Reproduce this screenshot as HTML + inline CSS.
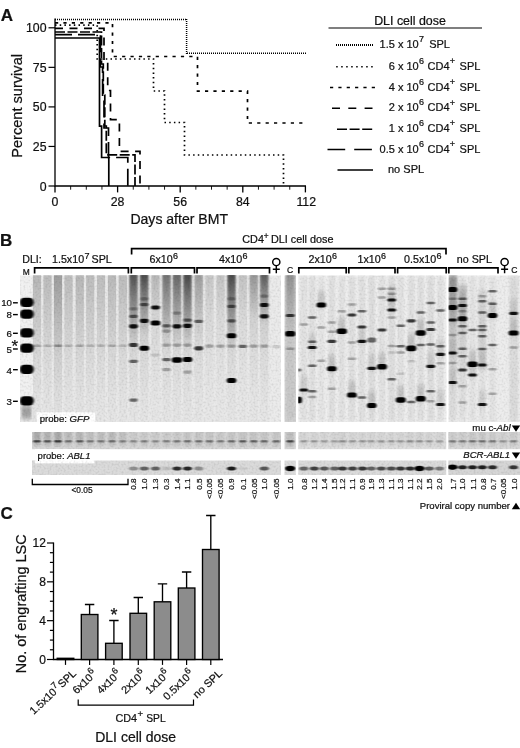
<!DOCTYPE html>
<html><head><meta charset="utf-8"><title>Figure</title>
<style>
html,body{margin:0;padding:0;background:#fff;}
body{width:520px;height:748px;overflow:hidden;}
svg{display:block;will-change:transform;}
text{font-family:"Liberation Sans",sans-serif;fill:#111;stroke:#111;stroke-width:0.22px;}
.b{font-weight:bold;}
.i{font-style:italic;}
.ln{fill:none;stroke:#000;}
</style></head><body>
<svg width="520" height="748" viewBox="0 0 520 748">
<defs>
<filter id="bl1" x="-50%" y="-150%" width="200%" height="400%"><feGaussianBlur stdDeviation="0.85 0.7"/></filter>
<filter id="bl2" x="-50%" y="-150%" width="200%" height="400%"><feGaussianBlur stdDeviation="0.95 0.65"/></filter>
<filter id="bl3" x="-30%" y="-20%" width="160%" height="140%"><feGaussianBlur stdDeviation="1.1 2.5"/></filter>
<filter id="noise" x="0" y="0" width="100%" height="100%">
<feTurbulence type="fractalNoise" baseFrequency="0.5" numOctaves="2" seed="3" result="n"/>
<feColorMatrix in="n" type="matrix" values="0 0 0 0 0  0 0 0 0 0  0 0 0 0 0  1.2 0 0 0 -0.5"/>
</filter>
<linearGradient id="sm" x1="0" y1="0" x2="0" y2="1">
<stop offset="0" stop-color="#000" stop-opacity="1"/><stop offset="0.35" stop-color="#000" stop-opacity="0.6"/><stop offset="1" stop-color="#000" stop-opacity="0"/>
</linearGradient>
<linearGradient id="lg" x1="0" y1="0" x2="0" y2="1">
<stop offset="0" stop-color="#000" stop-opacity="1"/><stop offset="0.3" stop-color="#000" stop-opacity="0.62"/><stop offset="0.55" stop-color="#000" stop-opacity="0.32"/><stop offset="0.8" stop-color="#000" stop-opacity="0.14"/><stop offset="1" stop-color="#000" stop-opacity="0.08"/>
</linearGradient>
<filter id="bl4" x="-30%" y="-5%" width="160%" height="110%"><feGaussianBlur stdDeviation="0.7 1.5"/></filter>
<clipPath id="cg1"><rect x="20" y="275" width="261" height="147"/></clipPath>
<clipPath id="cgc"><rect x="284.5" y="275" width="11.5" height="147"/></clipPath>
<clipPath id="cg2"><rect x="298.25" y="275" width="148.25" height="147"/></clipPath>
<clipPath id="cg3"><rect x="448.5" y="275" width="71.5" height="147"/></clipPath>
</defs>
<rect width="520" height="748" fill="#fff"/>

<g id="panelA">
<text class="b" x="0.8" y="20.8" font-size="17">A</text>
<path class="ln" stroke-width="1.3" d="M55,18.5 V186.0 H306.0"/>
<path class="ln" stroke-width="1.2" d="M48.5,186.00 H55"/>
<text x="46.5" y="190.50" font-size="12.3" text-anchor="end">0</text>
<path class="ln" stroke-width="1.2" d="M48.5,146.45 H55"/>
<text x="46.5" y="150.95" font-size="12.3" text-anchor="end">25</text>
<path class="ln" stroke-width="1.2" d="M48.5,106.90 H55"/>
<text x="46.5" y="111.40" font-size="12.3" text-anchor="end">50</text>
<path class="ln" stroke-width="1.2" d="M48.5,67.35 H55"/>
<text x="46.5" y="71.85" font-size="12.3" text-anchor="end">75</text>
<path class="ln" stroke-width="1.2" d="M48.5,27.80 H55"/>
<text x="46.5" y="32.30" font-size="12.3" text-anchor="end">100</text>
<path class="ln" stroke-width="1.3" d="M55.00,186.0 v6.4"/>
<text x="55.00" y="206.3" font-size="12.3" text-anchor="middle">0</text>
<path class="ln" stroke="#333" stroke-width="0.9" d="M70.65,186.0 v3.7"/>
<path class="ln" stroke="#333" stroke-width="0.9" d="M86.30,186.0 v3.7"/>
<path class="ln" stroke="#333" stroke-width="0.9" d="M101.95,186.0 v3.7"/>
<path class="ln" stroke-width="1.3" d="M117.60,186.0 v6.4"/>
<text x="117.60" y="206.3" font-size="12.3" text-anchor="middle">28</text>
<path class="ln" stroke="#333" stroke-width="0.9" d="M133.25,186.0 v3.7"/>
<path class="ln" stroke="#333" stroke-width="0.9" d="M148.90,186.0 v3.7"/>
<path class="ln" stroke="#333" stroke-width="0.9" d="M164.55,186.0 v3.7"/>
<path class="ln" stroke-width="1.3" d="M180.20,186.0 v6.4"/>
<text x="180.20" y="206.3" font-size="12.3" text-anchor="middle">56</text>
<path class="ln" stroke="#333" stroke-width="0.9" d="M195.85,186.0 v3.7"/>
<path class="ln" stroke="#333" stroke-width="0.9" d="M211.50,186.0 v3.7"/>
<path class="ln" stroke="#333" stroke-width="0.9" d="M227.15,186.0 v3.7"/>
<path class="ln" stroke-width="1.3" d="M242.80,186.0 v6.4"/>
<text x="242.80" y="206.3" font-size="12.3" text-anchor="middle">84</text>
<path class="ln" stroke="#333" stroke-width="0.9" d="M258.45,186.0 v3.7"/>
<path class="ln" stroke="#333" stroke-width="0.9" d="M274.10,186.0 v3.7"/>
<path class="ln" stroke="#333" stroke-width="0.9" d="M289.75,186.0 v3.7"/>
<path class="ln" stroke-width="1.3" d="M305.40,186.0 v6.4"/>
<text x="306.20" y="206.3" font-size="12.3" text-anchor="middle">112</text>
<text x="179.2" y="223.7" font-size="14.05" text-anchor="middle">Days after BMT</text>
<text transform="translate(21.9,105.9) rotate(-90)" font-size="14.6" text-anchor="middle">Percent survival</text>
<path class="ln" stroke-width="1.5" stroke-dasharray="1 1" d="M55,19.6 H187"/>
<path class="ln" stroke-width="1.5" stroke-dasharray="1 1" d="M186.6,19 V54"/>
<path class="ln" stroke-width="1.5" stroke-dasharray="1 1" d="M187,53.2 H306"/>
<path class="ln" stroke-width="1.7" stroke-dasharray="1.5 3.2" d="M55,25.2 H97.2 V59 H153.5 V91 H164.5 V122.5 H184.5 V155 H283.5 V186.0"/>
<path class="ln" stroke-width="1.7" stroke-dasharray="3.2 5.2" d="M55,22.8 H112.5 V56.5 H197.5 V91.2 H247.5 V123 H305"/>
<path class="ln" stroke-width="1.7" stroke-dasharray="8 6.5" d="M55,28.4 H104 V62 H107.7 V90.5 H110.5 V119.6 H119.4 V151.3 H140 V186.0"/>
<path class="ln" stroke-width="1.7" stroke-dasharray="10 2.5" d="M55,32 H101.5 V64 H103.3 V95 H104.8 V126 H106.3 V154.8 H135 V186.0"/>
<path class="ln" stroke-width="1.7" stroke-dasharray="17 6" d="M55,34.6 H100.4 V67 H102.6 V98 H104 V128 H108.5 V157.5 H127.8 V186.0"/>
<path class="ln" stroke-width="1.7" d="M55,38 H99.5 V126.2 H101.6 V157.5 H108.8 V186.0"/>
</g>
<g id="legend">
<text x="410" y="24.5" font-size="12.4" text-anchor="middle">DLI cell dose</text>
<path class="ln" stroke-width="1.2" d="M328.5,28 H482"/>
<path class="ln" stroke-width="2.0" stroke-dasharray="1 1" d="M336,45 H373"/>
<text x="418.7" y="48" font-size="11" text-anchor="end">1.5 x 10</text>
<text x="419" y="42.2" font-size="9">7</text>
<text x="429.2" y="48" font-size="11">SPL</text>
<path class="ln" stroke-width="1.5" stroke-dasharray="1.5 3.5" d="M336.2,66.75 H373"/>
<text x="418.7" y="69.5" font-size="11" text-anchor="end">6 x 10</text>
<text x="419" y="63.7" font-size="9">6</text>
<text x="427.6" y="69.5" font-size="11">CD4</text>
<text x="449.8" y="63.9" font-size="9">+</text>
<text x="459.6" y="69.5" font-size="11">SPL</text>
<path class="ln" stroke-width="1.6" stroke-dasharray="3.2 5.15" d="M330,87.5 H375"/>
<text x="418.7" y="90.5" font-size="11" text-anchor="end">4 x 10</text>
<text x="419" y="84.7" font-size="9">6</text>
<text x="427.6" y="90.5" font-size="11">CD4</text>
<text x="449.8" y="84.9" font-size="9">+</text>
<text x="459.6" y="90.5" font-size="11">SPL</text>
<path class="ln" stroke-width="1.5" stroke-dasharray="8 8.3" d="M332,108.25 H372.5"/>
<text x="418.7" y="111.25" font-size="11" text-anchor="end">2 x 10</text>
<text x="419" y="105.45" font-size="9">6</text>
<text x="427.6" y="111.25" font-size="11">CD4</text>
<text x="449.8" y="105.65" font-size="9">+</text>
<text x="459.6" y="111.25" font-size="11">SPL</text>
<path class="ln" stroke-width="1.5" stroke-dasharray="10 2.6" d="M337,129.25 H372.5"/>
<text x="418.7" y="132" font-size="11" text-anchor="end">1 x 10</text>
<text x="419" y="126.2" font-size="9">6</text>
<text x="427.6" y="132" font-size="11">CD4</text>
<text x="449.8" y="126.4" font-size="9">+</text>
<text x="459.6" y="132" font-size="11">SPL</text>
<path class="ln" stroke-width="1.5" stroke-dasharray="17.7 9" d="M327.5,149.4 H372.5"/>
<text x="418.7" y="153" font-size="11" text-anchor="end">0.5 x 10</text>
<text x="419" y="147.2" font-size="9">6</text>
<text x="427.6" y="153" font-size="11">CD4</text>
<text x="449.8" y="147.4" font-size="9">+</text>
<text x="459.6" y="153" font-size="11">SPL</text>
<path class="ln" stroke-width="1.5" d="M337.5,170 H373"/>
<text x="388" y="173.25" font-size="11">no SPL</text>
</g>
<g id="panelB">
<text class="b" x="0" y="246.2" font-size="17">B</text>
<text x="22.3" y="263" font-size="10.6">DLI:</text>
<text x="52.00" y="263" font-size="10.7">1.5x10</text><text x="84.42" y="258.5" font-size="8.99">7</text><text x="91.51" y="263" font-size="10.7">SPL</text>
<text x="149.52" y="263" font-size="10.7">6x10</text><text x="173.02" y="258.5" font-size="8.99">6</text>
<text x="219.02" y="263" font-size="10.7">4x10</text><text x="242.52" y="258.5" font-size="8.99">6</text>
<text x="308.52" y="263" font-size="10.7">2x10</text><text x="332.02" y="258.5" font-size="8.99">6</text>
<text x="357.52" y="263" font-size="10.7">1x10</text><text x="381.02" y="258.5" font-size="8.99">6</text>
<text x="404.06" y="263" font-size="10.7">0.5x10</text><text x="436.48" y="258.5" font-size="8.99">6</text>
<text x="474.4" y="263" font-size="10.7" text-anchor="middle">no SPL</text>
<text x="22.8" y="274.6" font-size="8.4">M</text>
<text x="286.9" y="273.1" font-size="8.6">C</text>
<text x="511.2" y="273.1" font-size="8.6">C</text>
<text x="242.3" y="243.2" font-size="10.8">CD4</text><text x="263.8" y="238.8" font-size="8.3">+</text><text x="271" y="243.2" font-size="10.8">DLI cell dose</text>
<path class="ln" stroke-width="1.7" d="M34.6,273.59999999999997 V267.9 H128.4 V273.59999999999997"/>
<path class="ln" stroke-width="1.7" d="M131.3,273.59999999999997 V267.9 H194.5 V273.59999999999997"/>
<path class="ln" stroke-width="1.7" d="M197,273.59999999999997 V267.9 H269.5 V273.59999999999997"/>
<path class="ln" stroke-width="1.7" d="M298.8,273.59999999999997 V267.9 H346.2 V273.59999999999997"/>
<path class="ln" stroke-width="1.7" d="M348.8,273.59999999999997 V267.9 H395 V273.59999999999997"/>
<path class="ln" stroke-width="1.7" d="M397.6,273.59999999999997 V267.9 H446.2 V273.59999999999997"/>
<path class="ln" stroke-width="1.7" d="M448.8,273.59999999999997 V267.9 H498 V273.59999999999997"/>
<path class="ln" stroke-width="1.7" d="M131.6,254.5 V248.7 H446 V254.5"/>
<g class="ln" stroke-width="1.45"><circle cx="276.3" cy="262" r="3.6"/><path d="M276.3,265.6 V273.2 M272.8,269.2 H279.8"/></g>
<g class="ln" stroke-width="1.45"><circle cx="504.6" cy="262" r="3.6"/><path d="M504.6,265.6 V273.2 M501.1,269.2 H508.1"/></g>
<text x="12" y="306.2" font-size="9.7" text-anchor="end">10</text>
<path class="ln" stroke-width="1.4" d="M13,302.79999999999995 h4.8"/>
<text x="12" y="318" font-size="9.7" text-anchor="end">8</text>
<path class="ln" stroke-width="1.4" d="M13,314.59999999999997 h4.8"/>
<text x="12" y="336.8" font-size="9.7" text-anchor="end">6</text>
<path class="ln" stroke-width="1.4" d="M13,333.29999999999995 h4.8"/>
<text x="12" y="352.5" font-size="9.7" text-anchor="end">5</text>
<path class="ln" stroke-width="1.4" d="M13,349.0 h4.8"/>
<text x="12" y="373.5" font-size="9.7" text-anchor="end">4</text>
<path class="ln" stroke-width="1.4" d="M13,369.7 h4.8"/>
<text x="12" y="405.4" font-size="9.7" text-anchor="end">3</text>
<path class="ln" stroke-width="1.4" d="M13,401.29999999999995 h4.8"/>
<text x="14.8" y="352.3" font-size="17" text-anchor="middle">*</text>
<g id="gel">
<rect x="20" y="275.5" width="13.5" height="146.5" fill="#f1f1f1"/>
<rect x="33" y="275.5" width="237" height="146.5" fill="#e9e9e9"/>
<rect x="270" y="275.5" width="11" height="146.5" fill="#ebebeb"/>
<rect x="284.5" y="275.5" width="11.5" height="146.5" fill="#d6d6d6"/>
<rect x="298.25" y="275.5" width="148.25" height="146.5" fill="#efefef"/>
<rect x="448.5" y="275.5" width="71.5" height="146.5" fill="#ededed"/>
<g clip-path="url(#cg1)">
<rect x="32.90" y="274" width="8.2" height="150" fill="url(#lg)" opacity="0.21" filter="url(#bl4)"/>
<rect x="43.40" y="274" width="8.2" height="150" fill="url(#lg)" opacity="0.19" filter="url(#bl4)"/>
<rect x="53.90" y="274" width="8.2" height="150" fill="url(#lg)" opacity="0.32" filter="url(#bl4)"/>
<rect x="64.40" y="274" width="8.2" height="150" fill="url(#lg)" opacity="0.19" filter="url(#bl4)"/>
<rect x="75.65" y="274" width="8.2" height="150" fill="url(#lg)" opacity="0.21" filter="url(#bl4)"/>
<rect x="86.15" y="274" width="8.2" height="150" fill="url(#lg)" opacity="0.19" filter="url(#bl4)"/>
<rect x="96.90" y="274" width="8.2" height="150" fill="url(#lg)" opacity="0.18" filter="url(#bl4)"/>
<rect x="107.90" y="274" width="8.2" height="150" fill="url(#lg)" opacity="0.20" filter="url(#bl4)"/>
<rect x="118.65" y="274" width="8.2" height="150" fill="url(#lg)" opacity="0.19" filter="url(#bl4)"/>
<rect x="129.40" y="274" width="8.2" height="150" fill="url(#lg)" opacity="0.20" filter="url(#bl4)"/>
<rect x="140.15" y="274" width="8.2" height="150" fill="url(#lg)" opacity="0.20" filter="url(#bl4)"/>
<rect x="151.40" y="274" width="8.2" height="150" fill="url(#lg)" opacity="0.12" filter="url(#bl4)"/>
<rect x="162.40" y="274" width="8.2" height="150" fill="url(#lg)" opacity="0.18" filter="url(#bl4)"/>
<rect x="172.90" y="274" width="8.2" height="150" fill="url(#lg)" opacity="0.18" filter="url(#bl4)"/>
<rect x="183.40" y="274" width="8.2" height="150" fill="url(#lg)" opacity="0.20" filter="url(#bl4)"/>
<rect x="194.65" y="274" width="8.2" height="150" fill="url(#lg)" opacity="0.16" filter="url(#bl4)"/>
<rect x="205.40" y="274" width="8.2" height="150" fill="url(#lg)" opacity="0.10" filter="url(#bl4)"/>
<rect x="216.40" y="274" width="8.2" height="150" fill="url(#lg)" opacity="0.10" filter="url(#bl4)"/>
<rect x="227.40" y="274" width="8.2" height="150" fill="url(#lg)" opacity="0.18" filter="url(#bl4)"/>
<rect x="238.65" y="274" width="8.2" height="150" fill="url(#lg)" opacity="0.10" filter="url(#bl4)"/>
<rect x="249.65" y="274" width="8.2" height="150" fill="url(#lg)" opacity="0.14" filter="url(#bl4)"/>
<rect x="260.15" y="274" width="8.2" height="150" fill="url(#lg)" opacity="0.16" filter="url(#bl4)"/>
<rect x="129.50" y="268" width="8" height="77" fill="url(#sm)" opacity="0.62" filter="url(#bl3)"/>
<rect x="140.25" y="268" width="8" height="67" fill="url(#sm)" opacity="0.68" filter="url(#bl3)"/>
<rect x="151.50" y="268" width="8" height="47" fill="url(#sm)" opacity="0.12" filter="url(#bl3)"/>
<rect x="162.50" y="268" width="8" height="77" fill="url(#sm)" opacity="0.45" filter="url(#bl3)"/>
<rect x="173.00" y="268" width="8" height="77" fill="url(#sm)" opacity="0.5" filter="url(#bl3)"/>
<rect x="183.50" y="268" width="8" height="77" fill="url(#sm)" opacity="0.68" filter="url(#bl3)"/>
<rect x="194.75" y="268" width="8" height="67" fill="url(#sm)" opacity="0.22" filter="url(#bl3)"/>
<rect x="205.50" y="268" width="8" height="47" fill="url(#sm)" opacity="0.06" filter="url(#bl3)"/>
<rect x="216.50" y="268" width="8" height="47" fill="url(#sm)" opacity="0.08" filter="url(#bl3)"/>
<rect x="227.50" y="268" width="8" height="82" fill="url(#sm)" opacity="0.68" filter="url(#bl3)"/>
<rect x="238.75" y="268" width="8" height="47" fill="url(#sm)" opacity="0.08" filter="url(#bl3)"/>
<rect x="249.75" y="268" width="8" height="52" fill="url(#sm)" opacity="0.3" filter="url(#bl3)"/>
<rect x="260.25" y="268" width="8" height="57" fill="url(#sm)" opacity="0.62" filter="url(#bl3)"/>
</g>
<g clip-path="url(#cg1)">
<rect x="19.9" y="297.7" width="13.8" height="9.2" rx="4.2" fill="#000" filter="url(#bl1)"/>
<rect x="19.9" y="309.59999999999997" width="13.8" height="9.2" rx="4.2" fill="#000" filter="url(#bl1)"/>
<rect x="19.9" y="328.2" width="13.8" height="9.2" rx="4.2" fill="#000" filter="url(#bl1)"/>
<rect x="19.9" y="343.59999999999997" width="13.8" height="9.2" rx="4.2" fill="#000" filter="url(#bl1)"/>
<rect x="19.9" y="364.7" width="13.8" height="9.2" rx="4.2" fill="#000" filter="url(#bl1)"/>
<rect x="19.9" y="396.2" width="13.8" height="9.2" rx="4.2" fill="#000" filter="url(#bl1)"/>
<rect x="21.5" y="405" width="10" height="14" fill="#000" opacity="0.32" filter="url(#bl3)"/>
<rect x="32.80" y="344.55" width="8.40" height="2.50" rx="1.25" fill="#000" opacity="0.22" filter="url(#bl2)"/>
<rect x="43.30" y="344.55" width="8.40" height="2.50" rx="1.25" fill="#000" opacity="0.18" filter="url(#bl2)"/>
<rect x="53.80" y="344.55" width="8.40" height="2.50" rx="1.25" fill="#000" opacity="0.32" filter="url(#bl2)"/>
<rect x="64.30" y="344.55" width="8.40" height="2.50" rx="1.25" fill="#000" opacity="0.18" filter="url(#bl2)"/>
<rect x="75.55" y="344.55" width="8.40" height="2.50" rx="1.25" fill="#000" opacity="0.22" filter="url(#bl2)"/>
<rect x="86.05" y="344.55" width="8.40" height="2.50" rx="1.25" fill="#000" opacity="0.18" filter="url(#bl2)"/>
<rect x="96.80" y="344.55" width="8.40" height="2.50" rx="1.25" fill="#000" opacity="0.18" filter="url(#bl2)"/>
<rect x="107.80" y="344.55" width="8.40" height="2.50" rx="1.25" fill="#000" opacity="0.22" filter="url(#bl2)"/>
<rect x="118.55" y="344.55" width="8.40" height="2.50" rx="1.25" fill="#000" opacity="0.16" filter="url(#bl2)"/>
<rect x="129.30" y="307.18" width="8.40" height="3.25" rx="1.62" fill="#000" opacity="0.28" filter="url(#bl2)"/>
<rect x="129.30" y="314.68" width="8.40" height="3.25" rx="1.62" fill="#000" opacity="0.55" filter="url(#bl2)"/>
<rect x="129.10" y="324.22" width="8.80" height="4.16" rx="2.08" fill="#000" opacity="0.92" filter="url(#bl1)"/>
<rect x="129.10" y="342.92" width="8.80" height="4.16" rx="2.08" fill="#000" opacity="0.75" filter="url(#bl1)"/>
<rect x="129.30" y="359.68" width="8.40" height="3.25" rx="1.62" fill="#000" opacity="0.55" filter="url(#bl2)"/>
<rect x="129.30" y="398.38" width="8.40" height="3.25" rx="1.62" fill="#000" opacity="0.55" filter="url(#bl2)"/>
<rect x="140.05" y="297.18" width="8.40" height="3.25" rx="1.62" fill="#000" opacity="0.28" filter="url(#bl2)"/>
<rect x="140.05" y="302.88" width="8.40" height="3.25" rx="1.62" fill="#000" opacity="0.55" filter="url(#bl2)"/>
<rect x="139.85" y="318.72" width="8.80" height="4.16" rx="2.08" fill="#000" opacity="0.92" filter="url(#bl1)"/>
<rect x="139.45" y="345.80" width="9.60" height="5.00" rx="2.50" fill="#000" opacity="1.00" filter="url(#bl1)"/>
<rect x="151.10" y="305.42" width="8.80" height="4.16" rx="2.08" fill="#000" opacity="0.92" filter="url(#bl1)"/>
<rect x="150.70" y="320.50" width="9.60" height="5.00" rx="2.50" fill="#000" opacity="1.00" filter="url(#bl1)"/>
<rect x="151.30" y="353.38" width="8.40" height="3.25" rx="1.62" fill="#000" opacity="0.13" filter="url(#bl2)"/>
<rect x="162.30" y="324.18" width="8.40" height="3.25" rx="1.62" fill="#000" opacity="0.55" filter="url(#bl2)"/>
<rect x="162.30" y="329.38" width="8.40" height="3.25" rx="1.62" fill="#000" opacity="0.28" filter="url(#bl2)"/>
<rect x="162.30" y="343.38" width="8.40" height="3.25" rx="1.62" fill="#000" opacity="0.28" filter="url(#bl2)"/>
<rect x="162.30" y="357.88" width="8.40" height="3.25" rx="1.62" fill="#000" opacity="0.55" filter="url(#bl2)"/>
<rect x="162.30" y="367.88" width="8.40" height="3.25" rx="1.62" fill="#000" opacity="0.28" filter="url(#bl2)"/>
<rect x="172.80" y="311.38" width="8.40" height="3.25" rx="1.62" fill="#000" opacity="0.28" filter="url(#bl2)"/>
<rect x="172.60" y="324.22" width="8.80" height="4.16" rx="2.08" fill="#000" opacity="0.92" filter="url(#bl1)"/>
<rect x="172.80" y="343.38" width="8.40" height="3.25" rx="1.62" fill="#000" opacity="0.28" filter="url(#bl2)"/>
<rect x="171.80" y="357.20" width="10.40" height="5.60" rx="2.80" fill="#000" opacity="1.00" filter="url(#bl1)"/>
<rect x="183.30" y="318.38" width="8.40" height="3.25" rx="1.62" fill="#000" opacity="0.55" filter="url(#bl2)"/>
<rect x="183.10" y="323.72" width="8.80" height="4.16" rx="2.08" fill="#000" opacity="0.92" filter="url(#bl1)"/>
<rect x="183.30" y="343.38" width="8.40" height="3.25" rx="1.62" fill="#000" opacity="0.28" filter="url(#bl2)"/>
<rect x="182.70" y="357.00" width="9.60" height="5.00" rx="2.50" fill="#000" opacity="1.00" filter="url(#bl1)"/>
<rect x="183.30" y="370.38" width="8.40" height="3.25" rx="1.62" fill="#000" opacity="0.28" filter="url(#bl2)"/>
<rect x="194.55" y="319.68" width="8.40" height="3.25" rx="1.62" fill="#000" opacity="0.55" filter="url(#bl2)"/>
<rect x="194.35" y="346.22" width="8.80" height="4.16" rx="2.08" fill="#000" opacity="0.75" filter="url(#bl1)"/>
<rect x="205.30" y="344.38" width="8.40" height="3.25" rx="1.62" fill="#000" opacity="0.28" filter="url(#bl2)"/>
<rect x="216.30" y="344.38" width="8.40" height="3.25" rx="1.62" fill="#000" opacity="0.28" filter="url(#bl2)"/>
<rect x="227.30" y="297.18" width="8.40" height="3.25" rx="1.62" fill="#000" opacity="0.28" filter="url(#bl2)"/>
<rect x="227.30" y="304.68" width="8.40" height="3.25" rx="1.62" fill="#000" opacity="0.55" filter="url(#bl2)"/>
<rect x="227.30" y="319.18" width="8.40" height="3.25" rx="1.62" fill="#000" opacity="0.55" filter="url(#bl2)"/>
<rect x="226.70" y="333.30" width="9.60" height="5.00" rx="2.50" fill="#000" opacity="1.00" filter="url(#bl1)"/>
<rect x="227.30" y="344.38" width="8.40" height="3.25" rx="1.62" fill="#000" opacity="0.28" filter="url(#bl2)"/>
<rect x="226.70" y="378.00" width="9.60" height="5.00" rx="2.50" fill="#000" opacity="1.00" filter="url(#bl1)"/>
<rect x="238.55" y="344.68" width="8.40" height="3.25" rx="1.62" fill="#000" opacity="0.55" filter="url(#bl2)"/>
<rect x="249.55" y="344.38" width="8.40" height="3.25" rx="1.62" fill="#000" opacity="0.28" filter="url(#bl2)"/>
<rect x="260.05" y="294.38" width="8.40" height="3.25" rx="1.62" fill="#000" opacity="0.28" filter="url(#bl2)"/>
<rect x="259.85" y="302.92" width="8.80" height="4.16" rx="2.08" fill="#000" opacity="0.92" filter="url(#bl1)"/>
<rect x="259.85" y="314.22" width="8.80" height="4.16" rx="2.08" fill="#000" opacity="0.92" filter="url(#bl1)"/>
<rect x="260.05" y="344.38" width="8.40" height="3.25" rx="1.62" fill="#000" opacity="0.28" filter="url(#bl2)"/>
<rect x="272.05" y="344.88" width="8.40" height="3.25" rx="1.62" fill="#000" opacity="0.13" filter="url(#bl2)"/>
</g>
<g clip-path="url(#cgc)">
<rect x="286" y="270" width="8.5" height="150" fill="#000" opacity="0.06" filter="url(#bl3)"/>
<rect x="286" y="270" width="8.5" height="70" fill="url(#sm)" opacity="0.3" filter="url(#bl3)"/>
<rect x="285.80" y="313.90" width="8.80" height="3.20" rx="1.60" fill="#000" opacity="0.75" filter="url(#bl1)"/>
<rect x="285.00" y="331.00" width="10.40" height="5.60" rx="2.80" fill="#000" opacity="1.00" filter="url(#bl1)"/>
<rect x="286.00" y="347.55" width="8.40" height="2.50" rx="1.25" fill="#000" opacity="0.28" filter="url(#bl2)"/>
</g>
<g clip-path="url(#cg2)">
<rect x="300.50" y="275" width="6.5" height="147" fill="#000" opacity="0.05" filter="url(#bl3)"/>
<rect x="308.95" y="275" width="6.5" height="147" fill="#000" opacity="0.06" filter="url(#bl3)"/>
<rect x="318.05" y="275" width="6.5" height="147" fill="#000" opacity="0.04" filter="url(#bl3)"/>
<rect x="328.55" y="275" width="6.5" height="147" fill="#000" opacity="0.06" filter="url(#bl3)"/>
<rect x="338.55" y="275" width="6.5" height="147" fill="#000" opacity="0.05" filter="url(#bl3)"/>
<rect x="348.65" y="275" width="6.5" height="147" fill="#000" opacity="0.06" filter="url(#bl3)"/>
<rect x="358.65" y="275" width="6.5" height="147" fill="#000" opacity="0.06" filter="url(#bl3)"/>
<rect x="368.50" y="275" width="6.5" height="147" fill="#000" opacity="0.07" filter="url(#bl3)"/>
<rect x="378.75" y="275" width="6.5" height="147" fill="#000" opacity="0.05" filter="url(#bl3)"/>
<rect x="388.45" y="275" width="6.5" height="147" fill="#000" opacity="0.07" filter="url(#bl3)"/>
<rect x="397.50" y="275" width="6.5" height="147" fill="#000" opacity="0.05" filter="url(#bl3)"/>
<rect x="408.00" y="275" width="6.5" height="147" fill="#000" opacity="0.06" filter="url(#bl3)"/>
<rect x="417.50" y="275" width="6.5" height="147" fill="#000" opacity="0.06" filter="url(#bl3)"/>
<rect x="427.50" y="275" width="6.5" height="147" fill="#000" opacity="0.07" filter="url(#bl3)"/>
<rect x="437.25" y="275" width="6.5" height="147" fill="#000" opacity="0.05" filter="url(#bl3)"/>
<rect x="300.15" y="376.0" width="7.2" height="17" fill="#000" opacity="0.09" filter="url(#bl3)"/>
<rect x="308.60" y="333.5" width="7.2" height="17" fill="#000" opacity="0.09" filter="url(#bl3)"/>
<rect x="317.70" y="291.0" width="7.2" height="17" fill="#000" opacity="0.13" filter="url(#bl3)"/>
<rect x="328.20" y="354.8" width="7.2" height="17" fill="#000" opacity="0.13" filter="url(#bl3)"/>
<rect x="338.20" y="317.3" width="7.2" height="17" fill="#000" opacity="0.13" filter="url(#bl3)"/>
<rect x="348.30" y="381.0" width="7.2" height="17" fill="#000" opacity="0.13" filter="url(#bl3)"/>
<rect x="358.30" y="327.3" width="7.2" height="17" fill="#000" opacity="0.09" filter="url(#bl3)"/>
<rect x="368.15" y="354.3" width="7.2" height="17" fill="#000" opacity="0.09" filter="url(#bl3)"/>
<rect x="368.15" y="391.5" width="7.2" height="17" fill="#000" opacity="0.13" filter="url(#bl3)"/>
<rect x="378.40" y="352.8" width="7.2" height="17" fill="#000" opacity="0.13" filter="url(#bl3)"/>
<rect x="388.10" y="286.0" width="7.2" height="17" fill="#000" opacity="0.09" filter="url(#bl3)"/>
<rect x="388.10" y="296.0" width="7.2" height="17" fill="#000" opacity="0.09" filter="url(#bl3)"/>
<rect x="397.15" y="386.0" width="7.2" height="17" fill="#000" opacity="0.13" filter="url(#bl3)"/>
<rect x="407.65" y="334.3" width="7.2" height="17" fill="#000" opacity="0.13" filter="url(#bl3)"/>
<rect x="417.15" y="319.0" width="7.2" height="17" fill="#000" opacity="0.13" filter="url(#bl3)"/>
<rect x="417.15" y="384.8" width="7.2" height="17" fill="#000" opacity="0.13" filter="url(#bl3)"/>
<rect x="427.15" y="352.3" width="7.2" height="17" fill="#000" opacity="0.09" filter="url(#bl3)"/>
<rect x="436.90" y="340.3" width="7.2" height="17" fill="#000" opacity="0.09" filter="url(#bl3)"/>
<rect x="436.90" y="390.5" width="7.2" height="17" fill="#000" opacity="0.09" filter="url(#bl3)"/>
<rect x="296.50" y="368.40" width="5.00" height="3.20" rx="1.60" fill="#000" opacity="0.55" filter="url(#bl2)"/>
<rect x="296.00" y="396.40" width="6.00" height="7.20" rx="3.00" fill="#000" opacity="1.00" filter="url(#bl1)"/>
<rect x="299.55" y="323.25" width="8.40" height="2.50" rx="1.25" fill="#000" opacity="0.28" filter="url(#bl2)"/>
<rect x="299.35" y="388.40" width="8.80" height="3.20" rx="1.60" fill="#000" opacity="0.92" filter="url(#bl1)"/>
<rect x="308.00" y="316.25" width="8.40" height="2.50" rx="1.25" fill="#000" opacity="0.55" filter="url(#bl2)"/>
<rect x="308.00" y="340.55" width="8.40" height="2.50" rx="1.25" fill="#000" opacity="0.55" filter="url(#bl2)"/>
<rect x="307.80" y="345.90" width="8.80" height="3.20" rx="1.60" fill="#000" opacity="0.92" filter="url(#bl1)"/>
<rect x="308.00" y="364.55" width="8.40" height="2.50" rx="1.25" fill="#000" opacity="0.55" filter="url(#bl2)"/>
<rect x="308.00" y="390.05" width="8.40" height="2.50" rx="1.25" fill="#000" opacity="0.55" filter="url(#bl2)"/>
<rect x="308.00" y="395.75" width="8.40" height="2.50" rx="1.25" fill="#000" opacity="0.28" filter="url(#bl2)"/>
<rect x="316.50" y="302.50" width="9.60" height="5.00" rx="2.50" fill="#000" opacity="1.00" filter="url(#bl1)"/>
<rect x="317.10" y="326.25" width="8.40" height="2.50" rx="1.25" fill="#000" opacity="0.28" filter="url(#bl2)"/>
<rect x="317.10" y="359.55" width="8.40" height="2.50" rx="1.25" fill="#000" opacity="0.28" filter="url(#bl2)"/>
<rect x="327.60" y="321.25" width="8.40" height="2.50" rx="1.25" fill="#000" opacity="0.28" filter="url(#bl2)"/>
<rect x="327.60" y="330.55" width="8.40" height="2.50" rx="1.25" fill="#000" opacity="0.28" filter="url(#bl2)"/>
<rect x="327.40" y="339.70" width="8.80" height="3.20" rx="1.60" fill="#000" opacity="0.75" filter="url(#bl1)"/>
<rect x="327.00" y="366.30" width="9.60" height="5.00" rx="2.50" fill="#000" opacity="1.00" filter="url(#bl1)"/>
<rect x="327.60" y="387.55" width="8.40" height="2.50" rx="1.25" fill="#000" opacity="0.28" filter="url(#bl2)"/>
<rect x="337.60" y="310.05" width="8.40" height="2.50" rx="1.25" fill="#000" opacity="0.28" filter="url(#bl2)"/>
<rect x="336.60" y="328.60" width="10.40" height="5.40" rx="2.70" fill="#000" opacity="1.00" filter="url(#bl1)"/>
<rect x="347.70" y="303.25" width="8.40" height="2.50" rx="1.25" fill="#000" opacity="0.28" filter="url(#bl2)"/>
<rect x="347.50" y="313.40" width="8.80" height="3.20" rx="1.60" fill="#000" opacity="0.75" filter="url(#bl1)"/>
<rect x="347.70" y="341.25" width="8.40" height="2.50" rx="1.25" fill="#000" opacity="0.28" filter="url(#bl2)"/>
<rect x="347.70" y="357.55" width="8.40" height="2.50" rx="1.25" fill="#000" opacity="0.28" filter="url(#bl2)"/>
<rect x="347.00" y="392.40" width="9.80" height="5.20" rx="2.60" fill="#000" opacity="1.00" filter="url(#bl1)"/>
<rect x="357.70" y="310.05" width="8.40" height="2.50" rx="1.25" fill="#000" opacity="0.55" filter="url(#bl2)"/>
<rect x="357.50" y="325.40" width="8.80" height="3.20" rx="1.60" fill="#000" opacity="0.75" filter="url(#bl1)"/>
<rect x="357.50" y="339.70" width="8.80" height="3.20" rx="1.60" fill="#000" opacity="0.92" filter="url(#bl1)"/>
<rect x="357.70" y="396.25" width="8.40" height="2.50" rx="1.25" fill="#000" opacity="0.55" filter="url(#bl2)"/>
<rect x="367.35" y="337.40" width="8.80" height="5.20" rx="2.60" fill="#000" opacity="0.55" filter="url(#bl2)"/>
<rect x="367.35" y="366.70" width="8.80" height="3.20" rx="1.60" fill="#000" opacity="0.92" filter="url(#bl1)"/>
<rect x="366.95" y="403.00" width="9.60" height="5.00" rx="2.50" fill="#000" opacity="1.00" filter="url(#bl1)"/>
<rect x="377.80" y="287.55" width="8.40" height="2.50" rx="1.25" fill="#000" opacity="0.28" filter="url(#bl2)"/>
<rect x="377.80" y="296.25" width="8.40" height="2.50" rx="1.25" fill="#000" opacity="0.28" filter="url(#bl2)"/>
<rect x="377.60" y="328.40" width="8.80" height="3.20" rx="1.60" fill="#000" opacity="0.75" filter="url(#bl1)"/>
<rect x="377.00" y="364.00" width="10.00" height="5.60" rx="2.80" fill="#000" opacity="1.00" filter="url(#bl1)"/>
<rect x="387.50" y="287.55" width="8.40" height="2.50" rx="1.25" fill="#000" opacity="0.28" filter="url(#bl2)"/>
<rect x="387.50" y="292.55" width="8.40" height="2.50" rx="1.25" fill="#000" opacity="0.28" filter="url(#bl2)"/>
<rect x="387.30" y="298.40" width="8.80" height="3.20" rx="1.60" fill="#000" opacity="0.92" filter="url(#bl1)"/>
<rect x="387.30" y="308.40" width="8.80" height="3.20" rx="1.60" fill="#000" opacity="0.92" filter="url(#bl1)"/>
<rect x="387.50" y="316.25" width="8.40" height="2.50" rx="1.25" fill="#000" opacity="0.28" filter="url(#bl2)"/>
<rect x="387.50" y="344.75" width="8.40" height="2.50" rx="1.25" fill="#000" opacity="0.28" filter="url(#bl2)"/>
<rect x="387.50" y="351.25" width="8.40" height="2.50" rx="1.25" fill="#000" opacity="0.13" filter="url(#bl2)"/>
<rect x="387.50" y="378.05" width="8.40" height="2.50" rx="1.25" fill="#000" opacity="0.55" filter="url(#bl2)"/>
<rect x="396.55" y="324.55" width="8.40" height="2.50" rx="1.25" fill="#000" opacity="0.55" filter="url(#bl2)"/>
<rect x="396.55" y="345.05" width="8.40" height="2.50" rx="1.25" fill="#000" opacity="0.55" filter="url(#bl2)"/>
<rect x="396.55" y="351.25" width="8.40" height="2.50" rx="1.25" fill="#000" opacity="0.28" filter="url(#bl2)"/>
<rect x="396.55" y="372.55" width="8.40" height="2.50" rx="1.25" fill="#000" opacity="0.13" filter="url(#bl2)"/>
<rect x="395.75" y="397.20" width="10.00" height="5.60" rx="2.80" fill="#000" opacity="1.00" filter="url(#bl1)"/>
<rect x="406.85" y="319.20" width="8.80" height="3.20" rx="1.60" fill="#000" opacity="0.75" filter="url(#bl1)"/>
<rect x="406.15" y="345.40" width="10.20" height="5.80" rx="2.90" fill="#000" opacity="1.00" filter="url(#bl1)"/>
<rect x="407.05" y="360.05" width="8.40" height="2.50" rx="1.25" fill="#000" opacity="0.13" filter="url(#bl2)"/>
<rect x="407.05" y="400.75" width="8.40" height="2.50" rx="1.25" fill="#000" opacity="0.55" filter="url(#bl2)"/>
<rect x="416.55" y="311.25" width="8.40" height="2.50" rx="1.25" fill="#000" opacity="0.55" filter="url(#bl2)"/>
<rect x="415.65" y="330.30" width="10.20" height="5.40" rx="2.70" fill="#000" opacity="1.00" filter="url(#bl1)"/>
<rect x="416.55" y="343.75" width="8.40" height="2.50" rx="1.25" fill="#000" opacity="0.55" filter="url(#bl2)"/>
<rect x="415.75" y="396.00" width="10.00" height="5.60" rx="2.80" fill="#000" opacity="1.00" filter="url(#bl1)"/>
<rect x="426.55" y="301.75" width="8.40" height="2.50" rx="1.25" fill="#000" opacity="0.55" filter="url(#bl2)"/>
<rect x="426.55" y="321.25" width="8.40" height="2.50" rx="1.25" fill="#000" opacity="0.55" filter="url(#bl2)"/>
<rect x="426.35" y="327.90" width="8.80" height="3.20" rx="1.60" fill="#000" opacity="0.75" filter="url(#bl1)"/>
<rect x="426.55" y="343.25" width="8.40" height="2.50" rx="1.25" fill="#000" opacity="0.55" filter="url(#bl2)"/>
<rect x="426.35" y="364.70" width="8.80" height="3.20" rx="1.60" fill="#000" opacity="0.92" filter="url(#bl1)"/>
<rect x="426.55" y="390.05" width="8.40" height="2.50" rx="1.25" fill="#000" opacity="0.55" filter="url(#bl2)"/>
<rect x="426.55" y="400.05" width="8.40" height="2.50" rx="1.25" fill="#000" opacity="0.28" filter="url(#bl2)"/>
<rect x="436.30" y="309.25" width="8.40" height="2.50" rx="1.25" fill="#000" opacity="0.55" filter="url(#bl2)"/>
<rect x="436.30" y="345.05" width="8.40" height="2.50" rx="1.25" fill="#000" opacity="0.55" filter="url(#bl2)"/>
<rect x="436.10" y="352.70" width="8.80" height="3.20" rx="1.60" fill="#000" opacity="0.92" filter="url(#bl1)"/>
<rect x="436.30" y="362.05" width="8.40" height="2.50" rx="1.25" fill="#000" opacity="0.28" filter="url(#bl2)"/>
<rect x="436.10" y="402.90" width="8.80" height="3.20" rx="1.60" fill="#000" opacity="0.92" filter="url(#bl1)"/>
</g>
<g clip-path="url(#cg3)">
<rect x="449.50" y="275" width="6" height="147" fill="#000" opacity="0.04" filter="url(#bl3)"/>
<rect x="459.50" y="275" width="6" height="147" fill="#000" opacity="0.04" filter="url(#bl3)"/>
<rect x="469.50" y="275" width="6" height="147" fill="#000" opacity="0.04" filter="url(#bl3)"/>
<rect x="479.25" y="275" width="6" height="147" fill="#000" opacity="0.04" filter="url(#bl3)"/>
<rect x="489.50" y="275" width="6" height="147" fill="#000" opacity="0.04" filter="url(#bl3)"/>
<rect x="448.5" y="275" width="9" height="147" fill="url(#lg)" opacity="0.26" filter="url(#bl3)"/>
<rect x="458.5" y="285" width="8.5" height="130" fill="url(#lg)" opacity="0.17" filter="url(#bl3)"/>
<rect x="478" y="290" width="8.5" height="80" fill="#000" opacity="0.07" filter="url(#bl3)"/>
<rect x="509.5" y="275" width="8.5" height="147" fill="#000" opacity="0.07" filter="url(#bl3)"/>
<rect x="448.90" y="275.5" width="7.2" height="17" fill="#000" opacity="0.13" filter="url(#bl3)"/>
<rect x="448.90" y="293.5" width="7.2" height="17" fill="#000" opacity="0.13" filter="url(#bl3)"/>
<rect x="448.90" y="306.0" width="7.2" height="17" fill="#000" opacity="0.09" filter="url(#bl3)"/>
<rect x="448.90" y="339.0" width="7.2" height="17" fill="#000" opacity="0.09" filter="url(#bl3)"/>
<rect x="448.90" y="368.5" width="7.2" height="17" fill="#000" opacity="0.09" filter="url(#bl3)"/>
<rect x="458.90" y="291.5" width="7.2" height="17" fill="#000" opacity="0.09" filter="url(#bl3)"/>
<rect x="458.90" y="304.8" width="7.2" height="17" fill="#000" opacity="0.13" filter="url(#bl3)"/>
<rect x="468.90" y="350.3" width="7.2" height="17" fill="#000" opacity="0.13" filter="url(#bl3)"/>
<rect x="468.90" y="361.0" width="7.2" height="17" fill="#000" opacity="0.09" filter="url(#bl3)"/>
<rect x="478.65" y="351.0" width="7.2" height="17" fill="#000" opacity="0.09" filter="url(#bl3)"/>
<rect x="478.65" y="390.5" width="7.2" height="17" fill="#000" opacity="0.09" filter="url(#bl3)"/>
<rect x="488.90" y="301.5" width="7.2" height="17" fill="#000" opacity="0.13" filter="url(#bl3)"/>
<rect x="510.00" y="299.3" width="7.2" height="17" fill="#000" opacity="0.09" filter="url(#bl3)"/>
<rect x="510.00" y="319.0" width="7.2" height="17" fill="#000" opacity="0.13" filter="url(#bl3)"/>
<rect x="447.70" y="286.90" width="9.60" height="5.20" rx="2.60" fill="#000" opacity="1.00" filter="url(#bl1)"/>
<rect x="448.30" y="297.55" width="8.40" height="2.50" rx="1.25" fill="#000" opacity="0.28" filter="url(#bl2)"/>
<rect x="447.70" y="305.00" width="9.60" height="5.00" rx="2.50" fill="#000" opacity="1.00" filter="url(#bl1)"/>
<rect x="448.10" y="318.40" width="8.80" height="3.20" rx="1.60" fill="#000" opacity="0.92" filter="url(#bl1)"/>
<rect x="448.30" y="333.75" width="8.40" height="2.50" rx="1.25" fill="#000" opacity="0.28" filter="url(#bl2)"/>
<rect x="448.10" y="351.40" width="8.80" height="3.20" rx="1.60" fill="#000" opacity="0.92" filter="url(#bl1)"/>
<rect x="448.30" y="361.75" width="8.40" height="2.50" rx="1.25" fill="#000" opacity="0.28" filter="url(#bl2)"/>
<rect x="448.10" y="380.90" width="8.80" height="3.20" rx="1.60" fill="#000" opacity="0.92" filter="url(#bl1)"/>
<rect x="458.30" y="297.55" width="8.40" height="2.50" rx="1.25" fill="#000" opacity="0.55" filter="url(#bl2)"/>
<rect x="458.10" y="303.90" width="8.80" height="3.20" rx="1.60" fill="#000" opacity="0.92" filter="url(#bl1)"/>
<rect x="458.30" y="310.05" width="8.40" height="2.50" rx="1.25" fill="#000" opacity="0.28" filter="url(#bl2)"/>
<rect x="457.70" y="316.30" width="9.60" height="5.00" rx="2.50" fill="#000" opacity="1.00" filter="url(#bl1)"/>
<rect x="458.30" y="325.05" width="8.40" height="2.50" rx="1.25" fill="#000" opacity="0.55" filter="url(#bl2)"/>
<rect x="458.30" y="331.75" width="8.40" height="2.50" rx="1.25" fill="#000" opacity="0.55" filter="url(#bl2)"/>
<rect x="458.30" y="347.55" width="8.40" height="2.50" rx="1.25" fill="#000" opacity="0.55" filter="url(#bl2)"/>
<rect x="458.30" y="355.05" width="8.40" height="2.50" rx="1.25" fill="#000" opacity="0.55" filter="url(#bl2)"/>
<rect x="458.10" y="368.40" width="8.80" height="3.20" rx="1.60" fill="#000" opacity="0.75" filter="url(#bl1)"/>
<rect x="458.30" y="385.05" width="8.40" height="2.50" rx="1.25" fill="#000" opacity="0.28" filter="url(#bl2)"/>
<rect x="458.30" y="401.25" width="8.40" height="2.50" rx="1.25" fill="#000" opacity="0.28" filter="url(#bl2)"/>
<rect x="468.30" y="328.75" width="8.40" height="2.50" rx="1.25" fill="#000" opacity="0.55" filter="url(#bl2)"/>
<rect x="467.40" y="361.50" width="10.20" height="5.60" rx="2.80" fill="#000" opacity="1.00" filter="url(#bl1)"/>
<rect x="468.10" y="373.40" width="8.80" height="3.20" rx="1.60" fill="#000" opacity="0.92" filter="url(#bl1)"/>
<rect x="478.05" y="295.05" width="8.40" height="2.50" rx="1.25" fill="#000" opacity="0.28" filter="url(#bl2)"/>
<rect x="478.05" y="300.05" width="8.40" height="2.50" rx="1.25" fill="#000" opacity="0.55" filter="url(#bl2)"/>
<rect x="478.05" y="311.25" width="8.40" height="2.50" rx="1.25" fill="#000" opacity="0.55" filter="url(#bl2)"/>
<rect x="478.05" y="325.05" width="8.40" height="2.50" rx="1.25" fill="#000" opacity="0.55" filter="url(#bl2)"/>
<rect x="478.05" y="328.75" width="8.40" height="2.50" rx="1.25" fill="#000" opacity="0.55" filter="url(#bl2)"/>
<rect x="478.05" y="335.05" width="8.40" height="2.50" rx="1.25" fill="#000" opacity="0.55" filter="url(#bl2)"/>
<rect x="478.05" y="347.75" width="8.40" height="2.50" rx="1.25" fill="#000" opacity="0.55" filter="url(#bl2)"/>
<rect x="477.85" y="363.40" width="8.80" height="3.20" rx="1.60" fill="#000" opacity="0.92" filter="url(#bl1)"/>
<rect x="477.85" y="402.90" width="8.80" height="3.20" rx="1.60" fill="#000" opacity="0.92" filter="url(#bl1)"/>
<rect x="488.30" y="290.05" width="8.40" height="2.50" rx="1.25" fill="#000" opacity="0.55" filter="url(#bl2)"/>
<rect x="488.30" y="302.55" width="8.40" height="2.50" rx="1.25" fill="#000" opacity="0.55" filter="url(#bl2)"/>
<rect x="487.70" y="313.00" width="9.60" height="5.00" rx="2.50" fill="#000" opacity="1.00" filter="url(#bl1)"/>
<rect x="488.30" y="343.75" width="8.40" height="2.50" rx="1.25" fill="#000" opacity="0.55" filter="url(#bl2)"/>
<rect x="488.30" y="368.05" width="8.40" height="2.50" rx="1.25" fill="#000" opacity="0.28" filter="url(#bl2)"/>
<rect x="488.30" y="392.55" width="8.40" height="2.50" rx="1.25" fill="#000" opacity="0.28" filter="url(#bl2)"/>
<rect x="509.20" y="311.70" width="8.80" height="3.20" rx="1.60" fill="#000" opacity="0.92" filter="url(#bl1)"/>
<rect x="508.60" y="330.40" width="10.00" height="5.20" rx="2.60" fill="#000" opacity="1.00" filter="url(#bl1)"/>
<rect x="509.40" y="346.25" width="8.40" height="2.50" rx="1.25" fill="#000" opacity="0.28" filter="url(#bl2)"/>
</g>
<rect x="36.5" y="412.3" width="58.6" height="11" fill="#fff"/>
<text x="39.7" y="421.8" font-size="9.6">probe: <tspan class="i">GFP</tspan></text>
<clipPath id="cs1"><rect x="32" y="432" width="249" height="17.2"/><rect x="284.5" y="432" width="11.3" height="17.2"/><rect x="298.25" y="432" width="148" height="17.2"/><rect x="448.3" y="432" width="71.7" height="17.2"/></clipPath>
<clipPath id="cs2"><rect x="32" y="460.5" width="249" height="14.5"/><rect x="284.5" y="460.5" width="11.3" height="14.5"/><rect x="298.25" y="460.5" width="148" height="14.5"/><rect x="448.3" y="460.5" width="71.7" height="14.5"/></clipPath>
<rect x="32" y="432" width="249" height="17.2" fill="#d6d6d6"/><rect x="284.5" y="432" width="11.3" height="17.2" fill="#d6d6d6"/><rect x="298.25" y="432" width="148" height="17.2" fill="#dedede"/><rect x="448.3" y="432" width="71.7" height="17.2" fill="#d9d9d9"/>
<rect x="32" y="460.5" width="249" height="14.5" fill="#dbdbdb"/><rect x="284.5" y="460.5" width="11.3" height="14.5" fill="#dbdbdb"/><rect x="298.25" y="460.5" width="148" height="14.5" fill="#dbdbdb"/><rect x="448.3" y="460.5" width="71.7" height="14.5" fill="#d6d6d6"/>
<g clip-path="url(#cs1)">
<rect x="33.40" y="428" width="7.2" height="14" fill="#000" opacity="0.20" filter="url(#bl3)"/>
<ellipse cx="35.30" cy="441.3" rx="2.0" ry="1.4" fill="#000" opacity="0.59" filter="url(#bl2)"/>
<ellipse cx="38.70" cy="441.3" rx="2.0" ry="1.4" fill="#000" opacity="0.59" filter="url(#bl2)"/>
<ellipse cx="37.00" cy="443.5" rx="3.6" ry="2.5" fill="#000" opacity="0.15" filter="url(#bl3)"/>
<rect x="43.90" y="428" width="7.2" height="14" fill="#000" opacity="0.17" filter="url(#bl3)"/>
<ellipse cx="45.80" cy="441.3" rx="2.0" ry="1.4" fill="#000" opacity="0.51" filter="url(#bl2)"/>
<ellipse cx="49.20" cy="441.3" rx="2.0" ry="1.4" fill="#000" opacity="0.51" filter="url(#bl2)"/>
<ellipse cx="47.50" cy="443.5" rx="3.6" ry="2.5" fill="#000" opacity="0.13" filter="url(#bl3)"/>
<rect x="54.40" y="428" width="7.2" height="14" fill="#000" opacity="0.21" filter="url(#bl3)"/>
<ellipse cx="56.30" cy="441.3" rx="2.0" ry="1.4" fill="#000" opacity="0.64" filter="url(#bl2)"/>
<ellipse cx="59.70" cy="441.3" rx="2.0" ry="1.4" fill="#000" opacity="0.64" filter="url(#bl2)"/>
<ellipse cx="58.00" cy="443.5" rx="3.6" ry="2.5" fill="#000" opacity="0.17" filter="url(#bl3)"/>
<rect x="64.90" y="428" width="7.2" height="14" fill="#000" opacity="0.13" filter="url(#bl3)"/>
<ellipse cx="66.80" cy="441.3" rx="2.0" ry="1.4" fill="#000" opacity="0.38" filter="url(#bl2)"/>
<ellipse cx="70.20" cy="441.3" rx="2.0" ry="1.4" fill="#000" opacity="0.38" filter="url(#bl2)"/>
<ellipse cx="68.50" cy="443.5" rx="3.6" ry="2.5" fill="#000" opacity="0.10" filter="url(#bl3)"/>
<rect x="76.15" y="428" width="7.2" height="14" fill="#000" opacity="0.15" filter="url(#bl3)"/>
<ellipse cx="78.05" cy="441.3" rx="2.0" ry="1.4" fill="#000" opacity="0.47" filter="url(#bl2)"/>
<ellipse cx="81.45" cy="441.3" rx="2.0" ry="1.4" fill="#000" opacity="0.47" filter="url(#bl2)"/>
<ellipse cx="79.75" cy="443.5" rx="3.6" ry="2.5" fill="#000" opacity="0.12" filter="url(#bl3)"/>
<rect x="86.65" y="428" width="7.2" height="14" fill="#000" opacity="0.11" filter="url(#bl3)"/>
<ellipse cx="88.55" cy="441.3" rx="2.0" ry="1.4" fill="#000" opacity="0.34" filter="url(#bl2)"/>
<ellipse cx="91.95" cy="441.3" rx="2.0" ry="1.4" fill="#000" opacity="0.34" filter="url(#bl2)"/>
<ellipse cx="90.25" cy="443.5" rx="3.6" ry="2.5" fill="#000" opacity="0.09" filter="url(#bl3)"/>
<rect x="97.40" y="428" width="7.2" height="14" fill="#000" opacity="0.11" filter="url(#bl3)"/>
<ellipse cx="99.30" cy="441.3" rx="2.0" ry="1.4" fill="#000" opacity="0.34" filter="url(#bl2)"/>
<ellipse cx="102.70" cy="441.3" rx="2.0" ry="1.4" fill="#000" opacity="0.34" filter="url(#bl2)"/>
<ellipse cx="101.00" cy="443.5" rx="3.6" ry="2.5" fill="#000" opacity="0.09" filter="url(#bl3)"/>
<rect x="108.40" y="428" width="7.2" height="14" fill="#000" opacity="0.13" filter="url(#bl3)"/>
<ellipse cx="110.30" cy="441.3" rx="2.0" ry="1.4" fill="#000" opacity="0.38" filter="url(#bl2)"/>
<ellipse cx="113.70" cy="441.3" rx="2.0" ry="1.4" fill="#000" opacity="0.38" filter="url(#bl2)"/>
<ellipse cx="112.00" cy="443.5" rx="3.6" ry="2.5" fill="#000" opacity="0.10" filter="url(#bl3)"/>
<rect x="119.15" y="428" width="7.2" height="14" fill="#000" opacity="0.10" filter="url(#bl3)"/>
<ellipse cx="121.05" cy="441.3" rx="2.0" ry="1.4" fill="#000" opacity="0.30" filter="url(#bl2)"/>
<ellipse cx="124.45" cy="441.3" rx="2.0" ry="1.4" fill="#000" opacity="0.30" filter="url(#bl2)"/>
<ellipse cx="122.75" cy="443.5" rx="3.6" ry="2.5" fill="#000" opacity="0.08" filter="url(#bl3)"/>
<rect x="129.90" y="428" width="7.2" height="14" fill="#000" opacity="0.05" filter="url(#bl3)"/>
<ellipse cx="131.80" cy="441.3" rx="2.0" ry="1.4" fill="#000" opacity="0.28" filter="url(#bl2)"/>
<ellipse cx="135.20" cy="441.3" rx="2.0" ry="1.4" fill="#000" opacity="0.28" filter="url(#bl2)"/>
<ellipse cx="133.50" cy="443.5" rx="3.6" ry="2.5" fill="#000" opacity="0.09" filter="url(#bl3)"/>
<rect x="140.65" y="428" width="7.2" height="14" fill="#000" opacity="0.05" filter="url(#bl3)"/>
<ellipse cx="142.55" cy="441.3" rx="2.0" ry="1.4" fill="#000" opacity="0.32" filter="url(#bl2)"/>
<ellipse cx="145.95" cy="441.3" rx="2.0" ry="1.4" fill="#000" opacity="0.32" filter="url(#bl2)"/>
<ellipse cx="144.25" cy="443.5" rx="3.6" ry="2.5" fill="#000" opacity="0.10" filter="url(#bl3)"/>
<rect x="151.90" y="428" width="7.2" height="14" fill="#000" opacity="0.05" filter="url(#bl3)"/>
<ellipse cx="153.80" cy="441.3" rx="2.0" ry="1.4" fill="#000" opacity="0.28" filter="url(#bl2)"/>
<ellipse cx="157.20" cy="441.3" rx="2.0" ry="1.4" fill="#000" opacity="0.28" filter="url(#bl2)"/>
<ellipse cx="155.50" cy="443.5" rx="3.6" ry="2.5" fill="#000" opacity="0.09" filter="url(#bl3)"/>
<rect x="162.90" y="428" width="7.2" height="14" fill="#000" opacity="0.05" filter="url(#bl3)"/>
<ellipse cx="164.80" cy="441.3" rx="2.0" ry="1.4" fill="#000" opacity="0.32" filter="url(#bl2)"/>
<ellipse cx="168.20" cy="441.3" rx="2.0" ry="1.4" fill="#000" opacity="0.32" filter="url(#bl2)"/>
<ellipse cx="166.50" cy="443.5" rx="3.6" ry="2.5" fill="#000" opacity="0.10" filter="url(#bl3)"/>
<rect x="173.40" y="428" width="7.2" height="14" fill="#000" opacity="0.06" filter="url(#bl3)"/>
<ellipse cx="175.30" cy="441.3" rx="2.0" ry="1.4" fill="#000" opacity="0.35" filter="url(#bl2)"/>
<ellipse cx="178.70" cy="441.3" rx="2.0" ry="1.4" fill="#000" opacity="0.35" filter="url(#bl2)"/>
<ellipse cx="177.00" cy="443.5" rx="3.6" ry="2.5" fill="#000" opacity="0.11" filter="url(#bl3)"/>
<rect x="183.90" y="428" width="7.2" height="14" fill="#000" opacity="0.07" filter="url(#bl3)"/>
<ellipse cx="185.80" cy="441.3" rx="2.0" ry="1.4" fill="#000" opacity="0.39" filter="url(#bl2)"/>
<ellipse cx="189.20" cy="441.3" rx="2.0" ry="1.4" fill="#000" opacity="0.39" filter="url(#bl2)"/>
<ellipse cx="187.50" cy="443.5" rx="3.6" ry="2.5" fill="#000" opacity="0.12" filter="url(#bl3)"/>
<rect x="195.15" y="428" width="7.2" height="14" fill="#000" opacity="0.07" filter="url(#bl3)"/>
<ellipse cx="197.05" cy="441.3" rx="2.0" ry="1.4" fill="#000" opacity="0.39" filter="url(#bl2)"/>
<ellipse cx="200.45" cy="441.3" rx="2.0" ry="1.4" fill="#000" opacity="0.39" filter="url(#bl2)"/>
<ellipse cx="198.75" cy="443.5" rx="3.6" ry="2.5" fill="#000" opacity="0.12" filter="url(#bl3)"/>
<rect x="205.90" y="428" width="7.2" height="14" fill="#000" opacity="0.07" filter="url(#bl3)"/>
<ellipse cx="207.80" cy="441.3" rx="2.0" ry="1.4" fill="#000" opacity="0.39" filter="url(#bl2)"/>
<ellipse cx="211.20" cy="441.3" rx="2.0" ry="1.4" fill="#000" opacity="0.39" filter="url(#bl2)"/>
<ellipse cx="209.50" cy="443.5" rx="3.6" ry="2.5" fill="#000" opacity="0.12" filter="url(#bl3)"/>
<rect x="216.90" y="428" width="7.2" height="14" fill="#000" opacity="0.06" filter="url(#bl3)"/>
<ellipse cx="218.80" cy="441.3" rx="2.0" ry="1.4" fill="#000" opacity="0.35" filter="url(#bl2)"/>
<ellipse cx="222.20" cy="441.3" rx="2.0" ry="1.4" fill="#000" opacity="0.35" filter="url(#bl2)"/>
<ellipse cx="220.50" cy="443.5" rx="3.6" ry="2.5" fill="#000" opacity="0.11" filter="url(#bl3)"/>
<rect x="227.90" y="428" width="7.2" height="14" fill="#000" opacity="0.07" filter="url(#bl3)"/>
<ellipse cx="229.80" cy="441.3" rx="2.0" ry="1.4" fill="#000" opacity="0.42" filter="url(#bl2)"/>
<ellipse cx="233.20" cy="441.3" rx="2.0" ry="1.4" fill="#000" opacity="0.42" filter="url(#bl2)"/>
<ellipse cx="231.50" cy="443.5" rx="3.6" ry="2.5" fill="#000" opacity="0.13" filter="url(#bl3)"/>
<rect x="239.15" y="428" width="7.2" height="14" fill="#000" opacity="0.08" filter="url(#bl3)"/>
<ellipse cx="241.05" cy="441.3" rx="2.0" ry="1.4" fill="#000" opacity="0.49" filter="url(#bl2)"/>
<ellipse cx="244.45" cy="441.3" rx="2.0" ry="1.4" fill="#000" opacity="0.49" filter="url(#bl2)"/>
<ellipse cx="242.75" cy="443.5" rx="3.6" ry="2.5" fill="#000" opacity="0.15" filter="url(#bl3)"/>
<rect x="250.15" y="428" width="7.2" height="14" fill="#000" opacity="0.08" filter="url(#bl3)"/>
<ellipse cx="252.05" cy="441.3" rx="2.0" ry="1.4" fill="#000" opacity="0.45" filter="url(#bl2)"/>
<ellipse cx="255.45" cy="441.3" rx="2.0" ry="1.4" fill="#000" opacity="0.45" filter="url(#bl2)"/>
<ellipse cx="253.75" cy="443.5" rx="3.6" ry="2.5" fill="#000" opacity="0.14" filter="url(#bl3)"/>
<rect x="260.65" y="428" width="7.2" height="14" fill="#000" opacity="0.07" filter="url(#bl3)"/>
<ellipse cx="262.55" cy="441.3" rx="2.0" ry="1.4" fill="#000" opacity="0.42" filter="url(#bl2)"/>
<ellipse cx="265.95" cy="441.3" rx="2.0" ry="1.4" fill="#000" opacity="0.42" filter="url(#bl2)"/>
<ellipse cx="264.25" cy="443.5" rx="3.6" ry="2.5" fill="#000" opacity="0.13" filter="url(#bl3)"/>
<rect x="272.65" y="428" width="7.2" height="14" fill="#000" opacity="0.07" filter="url(#bl3)"/>
<ellipse cx="274.55" cy="441.3" rx="2.0" ry="1.4" fill="#000" opacity="0.42" filter="url(#bl2)"/>
<ellipse cx="277.95" cy="441.3" rx="2.0" ry="1.4" fill="#000" opacity="0.42" filter="url(#bl2)"/>
<ellipse cx="276.25" cy="443.5" rx="3.6" ry="2.5" fill="#000" opacity="0.13" filter="url(#bl3)"/>
<rect x="286.60" y="428" width="7.2" height="14" fill="#000" opacity="0.10" filter="url(#bl3)"/>
<ellipse cx="288.50" cy="441.3" rx="2.0" ry="1.4" fill="#000" opacity="0.59" filter="url(#bl2)"/>
<ellipse cx="291.90" cy="441.3" rx="2.0" ry="1.4" fill="#000" opacity="0.59" filter="url(#bl2)"/>
<ellipse cx="290.20" cy="443.5" rx="3.6" ry="2.5" fill="#000" opacity="0.19" filter="url(#bl3)"/>
<rect x="300.15" y="428" width="7.2" height="14" fill="#000" opacity="0.04" filter="url(#bl3)"/>
<ellipse cx="302.05" cy="441.3" rx="2.0" ry="1.4" fill="#000" opacity="0.23" filter="url(#bl2)"/>
<ellipse cx="305.45" cy="441.3" rx="2.0" ry="1.4" fill="#000" opacity="0.23" filter="url(#bl2)"/>
<ellipse cx="303.75" cy="443.5" rx="3.6" ry="2.5" fill="#000" opacity="0.07" filter="url(#bl3)"/>
<rect x="310.65" y="428" width="7.2" height="14" fill="#000" opacity="0.04" filter="url(#bl3)"/>
<ellipse cx="312.55" cy="441.3" rx="2.0" ry="1.4" fill="#000" opacity="0.24" filter="url(#bl2)"/>
<ellipse cx="315.95" cy="441.3" rx="2.0" ry="1.4" fill="#000" opacity="0.24" filter="url(#bl2)"/>
<ellipse cx="314.25" cy="443.5" rx="3.6" ry="2.5" fill="#000" opacity="0.08" filter="url(#bl3)"/>
<rect x="320.65" y="428" width="7.2" height="14" fill="#000" opacity="0.04" filter="url(#bl3)"/>
<ellipse cx="322.55" cy="441.3" rx="2.0" ry="1.4" fill="#000" opacity="0.21" filter="url(#bl2)"/>
<ellipse cx="325.95" cy="441.3" rx="2.0" ry="1.4" fill="#000" opacity="0.21" filter="url(#bl2)"/>
<ellipse cx="324.25" cy="443.5" rx="3.6" ry="2.5" fill="#000" opacity="0.07" filter="url(#bl3)"/>
<rect x="330.90" y="428" width="7.2" height="14" fill="#000" opacity="0.04" filter="url(#bl3)"/>
<ellipse cx="332.80" cy="441.3" rx="2.0" ry="1.4" fill="#000" opacity="0.21" filter="url(#bl2)"/>
<ellipse cx="336.20" cy="441.3" rx="2.0" ry="1.4" fill="#000" opacity="0.21" filter="url(#bl2)"/>
<ellipse cx="334.50" cy="443.5" rx="3.6" ry="2.5" fill="#000" opacity="0.07" filter="url(#bl3)"/>
<rect x="338.90" y="428" width="7.2" height="14" fill="#000" opacity="0.05" filter="url(#bl3)"/>
<ellipse cx="340.80" cy="441.3" rx="2.0" ry="1.4" fill="#000" opacity="0.28" filter="url(#bl2)"/>
<ellipse cx="344.20" cy="441.3" rx="2.0" ry="1.4" fill="#000" opacity="0.28" filter="url(#bl2)"/>
<ellipse cx="342.50" cy="443.5" rx="3.6" ry="2.5" fill="#000" opacity="0.09" filter="url(#bl3)"/>
<rect x="348.90" y="428" width="7.2" height="14" fill="#000" opacity="0.04" filter="url(#bl3)"/>
<ellipse cx="350.80" cy="441.3" rx="2.0" ry="1.4" fill="#000" opacity="0.24" filter="url(#bl2)"/>
<ellipse cx="354.20" cy="441.3" rx="2.0" ry="1.4" fill="#000" opacity="0.24" filter="url(#bl2)"/>
<ellipse cx="352.50" cy="443.5" rx="3.6" ry="2.5" fill="#000" opacity="0.08" filter="url(#bl3)"/>
<rect x="358.90" y="428" width="7.2" height="14" fill="#000" opacity="0.04" filter="url(#bl3)"/>
<ellipse cx="360.80" cy="441.3" rx="2.0" ry="1.4" fill="#000" opacity="0.24" filter="url(#bl2)"/>
<ellipse cx="364.20" cy="441.3" rx="2.0" ry="1.4" fill="#000" opacity="0.24" filter="url(#bl2)"/>
<ellipse cx="362.50" cy="443.5" rx="3.6" ry="2.5" fill="#000" opacity="0.08" filter="url(#bl3)"/>
<rect x="367.65" y="428" width="7.2" height="14" fill="#000" opacity="0.04" filter="url(#bl3)"/>
<ellipse cx="369.55" cy="441.3" rx="2.0" ry="1.4" fill="#000" opacity="0.21" filter="url(#bl2)"/>
<ellipse cx="372.95" cy="441.3" rx="2.0" ry="1.4" fill="#000" opacity="0.21" filter="url(#bl2)"/>
<ellipse cx="371.25" cy="443.5" rx="3.6" ry="2.5" fill="#000" opacity="0.07" filter="url(#bl3)"/>
<rect x="377.65" y="428" width="7.2" height="14" fill="#000" opacity="0.04" filter="url(#bl3)"/>
<ellipse cx="379.55" cy="441.3" rx="2.0" ry="1.4" fill="#000" opacity="0.24" filter="url(#bl2)"/>
<ellipse cx="382.95" cy="441.3" rx="2.0" ry="1.4" fill="#000" opacity="0.24" filter="url(#bl2)"/>
<ellipse cx="381.25" cy="443.5" rx="3.6" ry="2.5" fill="#000" opacity="0.08" filter="url(#bl3)"/>
<rect x="387.65" y="428" width="7.2" height="14" fill="#000" opacity="0.04" filter="url(#bl3)"/>
<ellipse cx="389.55" cy="441.3" rx="2.0" ry="1.4" fill="#000" opacity="0.23" filter="url(#bl2)"/>
<ellipse cx="392.95" cy="441.3" rx="2.0" ry="1.4" fill="#000" opacity="0.23" filter="url(#bl2)"/>
<ellipse cx="391.25" cy="443.5" rx="3.6" ry="2.5" fill="#000" opacity="0.07" filter="url(#bl3)"/>
<rect x="396.90" y="428" width="7.2" height="14" fill="#000" opacity="0.04" filter="url(#bl3)"/>
<ellipse cx="398.80" cy="441.3" rx="2.0" ry="1.4" fill="#000" opacity="0.24" filter="url(#bl2)"/>
<ellipse cx="402.20" cy="441.3" rx="2.0" ry="1.4" fill="#000" opacity="0.24" filter="url(#bl2)"/>
<ellipse cx="400.50" cy="443.5" rx="3.6" ry="2.5" fill="#000" opacity="0.08" filter="url(#bl3)"/>
<rect x="406.40" y="428" width="7.2" height="14" fill="#000" opacity="0.05" filter="url(#bl3)"/>
<ellipse cx="408.30" cy="441.3" rx="2.0" ry="1.4" fill="#000" opacity="0.28" filter="url(#bl2)"/>
<ellipse cx="411.70" cy="441.3" rx="2.0" ry="1.4" fill="#000" opacity="0.28" filter="url(#bl2)"/>
<ellipse cx="410.00" cy="443.5" rx="3.6" ry="2.5" fill="#000" opacity="0.09" filter="url(#bl3)"/>
<rect x="415.90" y="428" width="7.2" height="14" fill="#000" opacity="0.05" filter="url(#bl3)"/>
<ellipse cx="417.80" cy="441.3" rx="2.0" ry="1.4" fill="#000" opacity="0.27" filter="url(#bl2)"/>
<ellipse cx="421.20" cy="441.3" rx="2.0" ry="1.4" fill="#000" opacity="0.27" filter="url(#bl2)"/>
<ellipse cx="419.50" cy="443.5" rx="3.6" ry="2.5" fill="#000" opacity="0.08" filter="url(#bl3)"/>
<rect x="425.65" y="428" width="7.2" height="14" fill="#000" opacity="0.04" filter="url(#bl3)"/>
<ellipse cx="427.55" cy="441.3" rx="2.0" ry="1.4" fill="#000" opacity="0.24" filter="url(#bl2)"/>
<ellipse cx="430.95" cy="441.3" rx="2.0" ry="1.4" fill="#000" opacity="0.24" filter="url(#bl2)"/>
<ellipse cx="429.25" cy="443.5" rx="3.6" ry="2.5" fill="#000" opacity="0.08" filter="url(#bl3)"/>
<rect x="435.90" y="428" width="7.2" height="14" fill="#000" opacity="0.04" filter="url(#bl3)"/>
<ellipse cx="437.80" cy="441.3" rx="2.0" ry="1.4" fill="#000" opacity="0.21" filter="url(#bl2)"/>
<ellipse cx="441.20" cy="441.3" rx="2.0" ry="1.4" fill="#000" opacity="0.21" filter="url(#bl2)"/>
<ellipse cx="439.50" cy="443.5" rx="3.6" ry="2.5" fill="#000" opacity="0.07" filter="url(#bl3)"/>
<rect x="448.90" y="428" width="7.2" height="14" fill="#000" opacity="0.06" filter="url(#bl3)"/>
<ellipse cx="450.80" cy="441.3" rx="2.0" ry="1.4" fill="#000" opacity="0.35" filter="url(#bl2)"/>
<ellipse cx="454.20" cy="441.3" rx="2.0" ry="1.4" fill="#000" opacity="0.35" filter="url(#bl2)"/>
<ellipse cx="452.50" cy="443.5" rx="3.6" ry="2.5" fill="#000" opacity="0.11" filter="url(#bl3)"/>
<rect x="458.90" y="428" width="7.2" height="14" fill="#000" opacity="0.06" filter="url(#bl3)"/>
<ellipse cx="460.80" cy="441.3" rx="2.0" ry="1.4" fill="#000" opacity="0.35" filter="url(#bl2)"/>
<ellipse cx="464.20" cy="441.3" rx="2.0" ry="1.4" fill="#000" opacity="0.35" filter="url(#bl2)"/>
<ellipse cx="462.50" cy="443.5" rx="3.6" ry="2.5" fill="#000" opacity="0.11" filter="url(#bl3)"/>
<rect x="468.90" y="428" width="7.2" height="14" fill="#000" opacity="0.07" filter="url(#bl3)"/>
<ellipse cx="470.80" cy="441.3" rx="2.0" ry="1.4" fill="#000" opacity="0.39" filter="url(#bl2)"/>
<ellipse cx="474.20" cy="441.3" rx="2.0" ry="1.4" fill="#000" opacity="0.39" filter="url(#bl2)"/>
<ellipse cx="472.50" cy="443.5" rx="3.6" ry="2.5" fill="#000" opacity="0.12" filter="url(#bl3)"/>
<rect x="478.65" y="428" width="7.2" height="14" fill="#000" opacity="0.07" filter="url(#bl3)"/>
<ellipse cx="480.55" cy="441.3" rx="2.0" ry="1.4" fill="#000" opacity="0.39" filter="url(#bl2)"/>
<ellipse cx="483.95" cy="441.3" rx="2.0" ry="1.4" fill="#000" opacity="0.39" filter="url(#bl2)"/>
<ellipse cx="482.25" cy="443.5" rx="3.6" ry="2.5" fill="#000" opacity="0.12" filter="url(#bl3)"/>
<rect x="488.90" y="428" width="7.2" height="14" fill="#000" opacity="0.06" filter="url(#bl3)"/>
<ellipse cx="490.80" cy="441.3" rx="2.0" ry="1.4" fill="#000" opacity="0.35" filter="url(#bl2)"/>
<ellipse cx="494.20" cy="441.3" rx="2.0" ry="1.4" fill="#000" opacity="0.35" filter="url(#bl2)"/>
<ellipse cx="492.50" cy="443.5" rx="3.6" ry="2.5" fill="#000" opacity="0.11" filter="url(#bl3)"/>
<rect x="499.40" y="428" width="7.2" height="14" fill="#000" opacity="0.04" filter="url(#bl3)"/>
<ellipse cx="501.30" cy="441.3" rx="2.0" ry="1.4" fill="#000" opacity="0.24" filter="url(#bl2)"/>
<ellipse cx="504.70" cy="441.3" rx="2.0" ry="1.4" fill="#000" opacity="0.24" filter="url(#bl2)"/>
<ellipse cx="503.00" cy="443.5" rx="3.6" ry="2.5" fill="#000" opacity="0.08" filter="url(#bl3)"/>
<rect x="509.90" y="428" width="7.2" height="14" fill="#000" opacity="0.05" filter="url(#bl3)"/>
<ellipse cx="511.80" cy="441.3" rx="2.0" ry="1.4" fill="#000" opacity="0.32" filter="url(#bl2)"/>
<ellipse cx="515.20" cy="441.3" rx="2.0" ry="1.4" fill="#000" opacity="0.32" filter="url(#bl2)"/>
<ellipse cx="513.50" cy="443.5" rx="3.6" ry="2.5" fill="#000" opacity="0.10" filter="url(#bl3)"/>
</g>
<g clip-path="url(#cs2)">
<ellipse cx="133.50" cy="468.5" rx="4.5" ry="2.0" fill="#000" opacity="0.35" filter="url(#bl2)"/>
<ellipse cx="144.25" cy="468.5" rx="4.5" ry="2.0" fill="#000" opacity="0.55" filter="url(#bl2)"/>
<ellipse cx="155.50" cy="468.5" rx="4.5" ry="2.0" fill="#000" opacity="0.55" filter="url(#bl2)"/>
<ellipse cx="166.50" cy="468.5" rx="4.5" ry="2.0" fill="#000" opacity="0.12" filter="url(#bl2)"/>
<ellipse cx="177.00" cy="468.5" rx="4.5" ry="2.0" fill="#000" opacity="0.80" filter="url(#bl2)"/>
<ellipse cx="187.50" cy="468.5" rx="4.5" ry="2.0" fill="#000" opacity="0.82" filter="url(#bl2)"/>
<ellipse cx="198.75" cy="468.5" rx="4.5" ry="2.0" fill="#000" opacity="0.35" filter="url(#bl2)"/>
<ellipse cx="231.50" cy="468.5" rx="4.5" ry="2.0" fill="#000" opacity="0.88" filter="url(#bl2)"/>
<ellipse cx="242.75" cy="468.5" rx="4.5" ry="2.0" fill="#000" opacity="0.04" filter="url(#bl2)"/>
<ellipse cx="264.25" cy="468.5" rx="4.5" ry="2.0" fill="#000" opacity="0.60" filter="url(#bl2)"/>
<ellipse cx="290.20" cy="468.5" rx="5.2" ry="2.7" fill="#000" opacity="1.00" filter="url(#bl2)"/>
<ellipse cx="303.75" cy="468.5" rx="4.5" ry="2.0" fill="#000" opacity="0.55" filter="url(#bl2)"/>
<ellipse cx="314.25" cy="468.5" rx="4.5" ry="2.0" fill="#000" opacity="0.70" filter="url(#bl2)"/>
<ellipse cx="324.25" cy="468.5" rx="4.5" ry="2.0" fill="#000" opacity="0.60" filter="url(#bl2)"/>
<ellipse cx="334.50" cy="468.5" rx="4.5" ry="2.0" fill="#000" opacity="0.55" filter="url(#bl2)"/>
<ellipse cx="342.50" cy="468.5" rx="4.5" ry="2.0" fill="#000" opacity="0.75" filter="url(#bl2)"/>
<ellipse cx="352.50" cy="468.5" rx="4.5" ry="2.0" fill="#000" opacity="0.70" filter="url(#bl2)"/>
<ellipse cx="362.50" cy="468.5" rx="4.5" ry="2.0" fill="#000" opacity="0.75" filter="url(#bl2)"/>
<ellipse cx="371.25" cy="468.5" rx="4.5" ry="2.0" fill="#000" opacity="0.55" filter="url(#bl2)"/>
<ellipse cx="381.25" cy="468.5" rx="4.5" ry="2.0" fill="#000" opacity="0.65" filter="url(#bl2)"/>
<ellipse cx="391.25" cy="468.5" rx="4.5" ry="2.0" fill="#000" opacity="0.65" filter="url(#bl2)"/>
<ellipse cx="400.50" cy="468.5" rx="4.5" ry="2.0" fill="#000" opacity="0.75" filter="url(#bl2)"/>
<ellipse cx="410.00" cy="468.5" rx="4.5" ry="2.0" fill="#000" opacity="0.80" filter="url(#bl2)"/>
<ellipse cx="419.50" cy="468.5" rx="5.2" ry="2.7" fill="#000" opacity="1.00" filter="url(#bl2)"/>
<ellipse cx="429.25" cy="468.5" rx="4.5" ry="2.0" fill="#000" opacity="0.60" filter="url(#bl2)"/>
<ellipse cx="439.50" cy="468.5" rx="4.5" ry="2.0" fill="#000" opacity="0.45" filter="url(#bl2)"/>
<ellipse cx="452.50" cy="467.2" rx="5.2" ry="2.7" fill="#000" opacity="1.00" filter="url(#bl2)"/>
<ellipse cx="462.50" cy="467.2" rx="4.5" ry="2.0" fill="#000" opacity="0.85" filter="url(#bl2)"/>
<ellipse cx="472.50" cy="467.2" rx="4.5" ry="2.0" fill="#000" opacity="0.85" filter="url(#bl2)"/>
<ellipse cx="482.25" cy="467.2" rx="4.5" ry="2.0" fill="#000" opacity="0.85" filter="url(#bl2)"/>
<ellipse cx="492.50" cy="467.2" rx="4.5" ry="2.0" fill="#000" opacity="0.80" filter="url(#bl2)"/>
<ellipse cx="513.50" cy="467.2" rx="4.5" ry="2.0" fill="#000" opacity="0.75" filter="url(#bl2)"/>
</g>
<rect x="34.8" y="449" width="59.6" height="14.4" fill="#fff"/>
<text x="37.6" y="458.6" font-size="9.5">probe: <tspan class="i">ABL1</tspan></text>
</g>
<clipPath id="call"><rect x="20" y="275.5" width="261" height="146.5"/><rect x="284.5" y="275.5" width="11.5" height="146.5"/><rect x="298.25" y="275.5" width="148.25" height="146.5"/><rect x="448.5" y="275.5" width="71.5" height="146.5"/><rect x="32" y="432" width="249" height="17.2"/><rect x="284.5" y="432" width="11.3" height="17.2"/><rect x="298.25" y="432" width="148" height="17.2"/><rect x="448.3" y="432" width="71.7" height="17.2"/><rect x="32" y="460.5" width="249" height="14.5"/><rect x="284.5" y="460.5" width="11.3" height="14.5"/><rect x="298.25" y="460.5" width="148" height="14.5"/><rect x="448.3" y="460.5" width="71.7" height="14.5"/></clipPath>
<g clip-path="url(#call)"><rect x="20" y="275" width="500" height="201" filter="url(#noise)" opacity="0.17"/></g>
<text x="510.6" y="430.9" font-size="9.7" text-anchor="end">mu c-<tspan class="i">Abl</tspan></text>
<path d="M511.8,425.4 h8.4 l-4.2,6.4 z" fill="#000"/>
<text x="510.2" y="458" font-size="9.6" text-anchor="end" class="i">BCR-ABL1</text>
<path d="M511.8,452.4 h8.4 l-4.2,6.4 z" fill="#000"/>
<text x="510" y="509" font-size="9.55" text-anchor="end">Proviral copy number</text>
<path d="M511.8,509.2 h8.4 l-4.2,-6.5 z" fill="#000"/>
<text transform="translate(136.40,478.4) rotate(-90)" font-size="8.1" text-anchor="end">0.8</text>
<text transform="translate(147.15,478.4) rotate(-90)" font-size="8.1" text-anchor="end">1.0</text>
<text transform="translate(158.40,478.4) rotate(-90)" font-size="8.1" text-anchor="end">1.3</text>
<text transform="translate(169.40,478.4) rotate(-90)" font-size="8.1" text-anchor="end">0.3</text>
<text transform="translate(179.90,478.4) rotate(-90)" font-size="8.1" text-anchor="end">1.4</text>
<text transform="translate(190.40,478.4) rotate(-90)" font-size="8.1" text-anchor="end">1.1</text>
<text transform="translate(201.65,478.4) rotate(-90)" font-size="8.1" text-anchor="end">0.5</text>
<text transform="translate(212.40,478.4) rotate(-90)" font-size="8.1" text-anchor="end">&lt;0.05</text>
<text transform="translate(223.40,478.4) rotate(-90)" font-size="8.1" text-anchor="end">&lt;0.05</text>
<text transform="translate(234.40,478.4) rotate(-90)" font-size="8.1" text-anchor="end">0.9</text>
<text transform="translate(245.65,478.4) rotate(-90)" font-size="8.1" text-anchor="end">0.1</text>
<text transform="translate(256.65,478.4) rotate(-90)" font-size="8.1" text-anchor="end">&lt;0.05</text>
<text transform="translate(267.15,478.4) rotate(-90)" font-size="8.1" text-anchor="end">1.0</text>
<text transform="translate(279.15,478.4) rotate(-90)" font-size="8.1" text-anchor="end">&lt;0.05</text>
<text transform="translate(293.10,478.4) rotate(-90)" font-size="8.1" text-anchor="end">1.0</text>
<text transform="translate(306.65,478.4) rotate(-90)" font-size="8.1" text-anchor="end">0.8</text>
<text transform="translate(317.15,478.4) rotate(-90)" font-size="8.1" text-anchor="end">1.2</text>
<text transform="translate(327.15,478.4) rotate(-90)" font-size="8.1" text-anchor="end">1.4</text>
<text transform="translate(337.40,478.4) rotate(-90)" font-size="8.1" text-anchor="end">1.5</text>
<text transform="translate(345.40,478.4) rotate(-90)" font-size="8.1" text-anchor="end">1.2</text>
<text transform="translate(355.40,478.4) rotate(-90)" font-size="8.1" text-anchor="end">1.1</text>
<text transform="translate(365.40,478.4) rotate(-90)" font-size="8.1" text-anchor="end">0.9</text>
<text transform="translate(374.15,478.4) rotate(-90)" font-size="8.1" text-anchor="end">1.9</text>
<text transform="translate(384.15,478.4) rotate(-90)" font-size="8.1" text-anchor="end">1.3</text>
<text transform="translate(394.15,478.4) rotate(-90)" font-size="8.1" text-anchor="end">1.1</text>
<text transform="translate(403.40,478.4) rotate(-90)" font-size="8.1" text-anchor="end">1.3</text>
<text transform="translate(412.90,478.4) rotate(-90)" font-size="8.1" text-anchor="end">1.1</text>
<text transform="translate(422.40,478.4) rotate(-90)" font-size="8.1" text-anchor="end">2.2</text>
<text transform="translate(432.15,478.4) rotate(-90)" font-size="8.1" text-anchor="end">1.5</text>
<text transform="translate(442.40,478.4) rotate(-90)" font-size="8.1" text-anchor="end">2.0</text>
<text transform="translate(456.10,478.4) rotate(-90)" font-size="8.1" text-anchor="end">1.7</text>
<text transform="translate(465.20,478.4) rotate(-90)" font-size="8.1" text-anchor="end">1.0</text>
<text transform="translate(475.60,478.4) rotate(-90)" font-size="8.1" text-anchor="end">1.1</text>
<text transform="translate(485.70,478.4) rotate(-90)" font-size="8.1" text-anchor="end">0.8</text>
<text transform="translate(495.90,478.4) rotate(-90)" font-size="8.1" text-anchor="end">0.7</text>
<text transform="translate(506.40,478.4) rotate(-90)" font-size="8.1" text-anchor="end">&lt;0.05</text>
<text transform="translate(516.60,478.4) rotate(-90)" font-size="8.1" text-anchor="end">1.0</text>
<path class="ln" stroke-width="1.3" d="M32.3,478.8 V484.5 H128 V478.8"/>
<text x="82" y="493.4" font-size="8.3" text-anchor="middle">&lt;0.05</text>
</g>
<g id="panelC">
<text class="b" x="0.5" y="518.6" font-size="17">C</text>
<path class="ln" stroke-width="1.3" d="M53.5,542.4 V659.5 H223"/>
<path class="ln" stroke-width="1.2" d="M47.0,659.50 H53.5"/>
<text x="45.9" y="663.90" font-size="12" text-anchor="end">0</text>
<path class="ln" stroke-width="1.2" d="M49.9,649.79 H53.5"/>
<path class="ln" stroke-width="1.2" d="M49.9,640.08 H53.5"/>
<path class="ln" stroke-width="1.2" d="M49.9,630.38 H53.5"/>
<path class="ln" stroke-width="1.2" d="M47.0,620.67 H53.5"/>
<text x="45.9" y="625.07" font-size="12" text-anchor="end">4</text>
<path class="ln" stroke-width="1.2" d="M49.9,610.96 H53.5"/>
<path class="ln" stroke-width="1.2" d="M49.9,601.25 H53.5"/>
<path class="ln" stroke-width="1.2" d="M49.9,591.54 H53.5"/>
<path class="ln" stroke-width="1.2" d="M47.0,581.83 H53.5"/>
<text x="45.9" y="586.23" font-size="12" text-anchor="end">8</text>
<path class="ln" stroke-width="1.2" d="M49.9,572.12 H53.5"/>
<path class="ln" stroke-width="1.2" d="M49.9,562.42 H53.5"/>
<path class="ln" stroke-width="1.2" d="M49.9,552.71 H53.5"/>
<path class="ln" stroke-width="1.2" d="M47.0,543.00 H53.5"/>
<text x="45.9" y="547.40" font-size="12" text-anchor="end">12</text>
<text transform="translate(25.5,603.8) rotate(-90)" font-size="14.45" text-anchor="middle">No. of engrafting LSC</text>
<path class="ln" stroke-width="1.2" d="M65.5,659.5 v5.4"/>
<rect x="57.20" y="658.3" width="16.6" height="1.20" fill="#8c8c8c" stroke="#000" stroke-width="1.35"/>
<path class="ln" stroke-width="1.2" d="M89.6,659.5 v5.4"/>
<path class="ln" stroke-width="1.35" d="M89.6,614.5 V604.5 M84.89999999999999,604.5 H94.3"/>
<rect x="81.30" y="614.5" width="16.6" height="45.00" fill="#8c8c8c" stroke="#000" stroke-width="1.35"/>
<path class="ln" stroke-width="1.2" d="M113.9,659.5 v5.4"/>
<path class="ln" stroke-width="1.35" d="M113.9,643.3 V620.5 M109.2,620.5 H118.60000000000001"/>
<rect x="105.60" y="643.3" width="16.6" height="16.20" fill="#8c8c8c" stroke="#000" stroke-width="1.35"/>
<path class="ln" stroke-width="1.2" d="M138.3,659.5 v5.4"/>
<path class="ln" stroke-width="1.35" d="M138.3,613.3 V597.5 M133.60000000000002,597.5 H143.0"/>
<rect x="130.00" y="613.3" width="16.6" height="46.20" fill="#8c8c8c" stroke="#000" stroke-width="1.35"/>
<path class="ln" stroke-width="1.2" d="M162.5,659.5 v5.4"/>
<path class="ln" stroke-width="1.35" d="M162.5,601.8 V583.8 M157.8,583.8 H167.2"/>
<rect x="154.20" y="601.8" width="16.6" height="57.70" fill="#8c8c8c" stroke="#000" stroke-width="1.35"/>
<path class="ln" stroke-width="1.2" d="M186.6,659.5 v5.4"/>
<path class="ln" stroke-width="1.35" d="M186.6,588 V572 M181.9,572 H191.29999999999998"/>
<rect x="178.30" y="588" width="16.6" height="71.50" fill="#8c8c8c" stroke="#000" stroke-width="1.35"/>
<path class="ln" stroke-width="1.2" d="M210.8,659.5 v5.4"/>
<path class="ln" stroke-width="1.35" d="M210.8,549.5 V515.5 M206.10000000000002,515.5 H215.5"/>
<rect x="202.50" y="549.5" width="16.6" height="110.00" fill="#8c8c8c" stroke="#000" stroke-width="1.35"/>
<text x="114" y="620.6" font-size="18" text-anchor="middle">*</text>
<g transform="translate(77.6,673.6) rotate(-43.5)"><text x="-60.30" y="0" font-size="10.8">1.5x10</text><text x="-27.58" y="-4.6" font-size="9.07">7</text><text x="-21.36" y="0" font-size="10.8">SPL</text></g>
<g transform="translate(96.9,675.3) rotate(-43.5)"><text x="-27.88" y="0" font-size="10.8">6x10</text><text x="-4.16" y="-4.6" font-size="9.07">6</text></g>
<g transform="translate(121.2,675.3) rotate(-43.5)"><text x="-27.88" y="0" font-size="10.8">4x10</text><text x="-4.16" y="-4.6" font-size="9.07">6</text></g>
<g transform="translate(145.6,675.3) rotate(-43.5)"><text x="-27.88" y="0" font-size="10.8">2x10</text><text x="-4.16" y="-4.6" font-size="9.07">6</text></g>
<g transform="translate(169.8,675.3) rotate(-43.5)"><text x="-27.88" y="0" font-size="10.8">1x10</text><text x="-4.16" y="-4.6" font-size="9.07">6</text></g>
<g transform="translate(193.9,675.3) rotate(-43.5)"><text x="-36.88" y="0" font-size="10.8">0.5x10</text><text x="-4.16" y="-4.6" font-size="9.07">6</text></g>
<g transform="translate(222.8,674.3) rotate(-43.5)"><text x="-35.42" y="0" font-size="10.8">no SPL</text></g>
<path class="ln" stroke-width="1.2" d="M78.2,699.5 V705.2 H193.5 V699.5"/>
<text x="115.4" y="722.3" font-size="10.8">CD4</text><text x="137.4" y="717.4" font-size="9.6">+</text><text x="146.2" y="722.3" font-size="10.3">SPL</text>
<text x="135.7" y="742.4" font-size="14" text-anchor="middle">DLI cell dose</text>
</g>
</svg></body></html>
